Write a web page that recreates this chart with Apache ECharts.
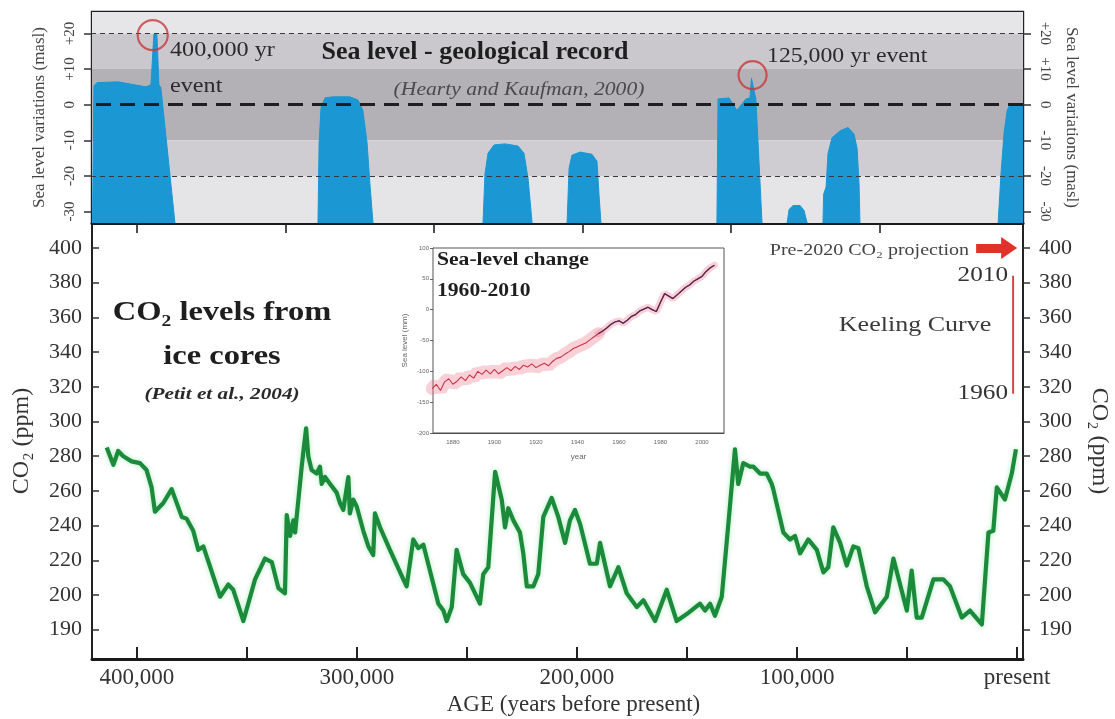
<!DOCTYPE html>
<html>
<head>
<meta charset="utf-8">
<title>Sea level and CO2 record</title>
<script src="https://cdn.jsdelivr.net/npm/echarts@6.0.0/dist/echarts.min.js"></script>
<style>
  html, body { margin: 0; padding: 0; background: #fff; }
  #chart { width: 1115px; height: 719px; }
</style>
</head>
<body>
<div id="chart"></div>
<script>
// CO2 from ice cores (Petit et al.), age in years before present
var co2Age = [413700, 410700, 408500, 406200, 402400, 398600, 395600, 393300, 391800, 388000,
  384200, 379600, 377400, 374400, 372100, 369800, 362200, 358500, 356200, 351600,
  346300, 341800, 338700, 335700, 332700, 331900, 330400, 328900, 328100, 325100,
  324400, 323100, 322100, 320600, 318300, 316800, 316000, 314500, 312200, 309200,
  307700, 306200, 303900, 303200, 301700, 300100, 297100, 294800, 292600, 291800,
  289500, 285000, 278900, 277400, 274400, 272100, 269800, 263000, 260700, 259200,
  256900, 254700, 251700, 248600, 244100, 242600, 240300, 237200, 234200, 232700,
  231200, 228900, 225900, 224400, 222800, 219800, 217600, 215300, 211500, 208500,
  205400, 203200, 200900, 198600, 194100, 191000, 189500, 185000, 181200, 177400,
  172800, 169800, 164500, 159200, 154700, 150100, 144100, 141800, 139500, 137300,
  134200, 131200, 128200, 126700, 124400, 122900, 121400, 119900, 116800, 113800,
  111500, 110800, 106200, 103200, 100900, 98600, 94900, 91000, 88000, 85800,
  83500, 80400, 77400, 74400, 72100, 68300, 64500, 59200, 56200, 50100,
  47900, 45600, 43300, 38000, 33500, 30500, 25100, 21400, 16000, 13000,
  10800, 9200, 5500, 2400, 500];
var co2Ppm = [285, 275, 283, 280, 277, 276, 272, 262, 248, 253,
  261, 245, 244, 237, 226, 228, 199, 206, 203, 185,
  209, 221, 219, 204, 201, 246, 234, 243, 236, 274,
  282, 296, 280, 272, 270, 274, 264, 268, 264, 259,
  253, 249, 268, 247, 255, 251, 237, 228, 223, 247,
  239, 226, 209, 205, 232, 227, 229, 195, 191, 185,
  193, 226, 212, 207, 195, 212, 216, 271, 255, 239,
  250, 243, 236, 224, 205, 205, 212, 245, 256, 245,
  230, 243, 249, 241, 218, 218, 230, 205, 216, 201,
  193, 197, 185, 203, 185, 189, 195, 191, 195, 188,
  199, 241, 284, 264, 276, 275, 274, 274, 270, 270,
  264, 261, 236, 232, 234, 224, 232, 226, 213, 216,
  239, 230, 217, 228, 227, 205, 190, 199, 221, 191,
  214, 187, 187, 209, 209, 205, 187, 191, 183, 236,
  237, 262, 255, 270, 284];

// sea level highstands (Hearty and Kaufman), one list per blue shape
var seaAges = [
  [420200, 419500, 418100, 408600, 395900, 393600, 392300, 390900, 390000, 389100, 382700],
  [317700, 317200, 316300, 314500, 310900, 303200, 299500, 297300, 295400, 294100, 292700],
  [242700, 241800, 240400, 237700, 232700, 226800, 224100, 222200, 220400],
  [204500, 203600, 202300, 198600, 193200, 190900, 190000, 189100],
  [136400, 135900, 130900, 127300, 123200, 121400, 120700, 119800, 118700, 117700, 115900],
  [104500, 103600, 101800, 98600, 96800, 95400],
  [88200, 87900, 86800, 85900, 84100, 80400, 76800, 74100, 72700, 71800, 71400],
  [8600, 7300, 5900, 4500, 3200, -2700]
];
var seaLevels = [
  [-33.2, 5.3, 6.2, 6.4, 5.0, 5.6, 19.7, 19.7, 5.6, 4.8, -33.2],
  [-33.2, -10.7, -0.7, 1.9, 2.2, 2.2, 1.3, -1.6, -10.7, -22.2, -33.2],
  [-33.2, -19.4, -13.6, -11.3, -11.0, -11.6, -13.6, -20.8, -33.2],
  [-33.2, -17.9, -14.2, -13.3, -13.9, -15.9, -25.1, -33.2],
  [-33.2, 1.6, 1.9, -1.6, 1.6, 1.9, 7.4, 7.4, 1.6, -10.7, -33.2],
  [-33.2, -29.4, -28.3, -28.3, -29.7, -33.2],
  [-33.2, -25.1, -23.1, -13.6, -9.3, -7.3, -6.4, -8.2, -12.2, -22.2, -33.2],
  [-33.2, -19.4, -7.9, -1.6, 0, 0]
];
var bandEdges = [26, 20, 10, -10, -20, -33.2];
var bandColors = ['#e6e5e8', '#cac8cc', '#b4b1b6', '#cfcdd1', '#e5e4e7'];
var refLevels = [20, 0, -20];
var eventAge = [392800, 120200];
var eventLevel = [19.5, 8.3];

// Keeling curve and projection arrow
var keelingAge = [1800, 1800];
var keelingPpm = [316, 384];
var projAge = [18600, 3600];
var projPpm = [400, 400];

// inset: sea-level change, mm
var insetYears = [1870, 1872, 1874, 1876, 1878, 1880, 1882, 1884, 1886, 1888,
  1890, 1892, 1894, 1896, 1898, 1900, 1902, 1904, 1906, 1908,
  1910, 1912, 1914, 1916, 1918, 1920, 1922, 1924, 1926, 1928,
  1930, 1932, 1934, 1936, 1938, 1940, 1942, 1944, 1946, 1948,
  1950, 1952, 1954, 1956, 1958, 1960, 1962, 1964, 1966, 1968,
  1970, 1972, 1974, 1976, 1978, 1980, 1982, 1984, 1986, 1988,
  1990, 1992, 1994, 1996, 1998, 2000, 2002, 2004, 2006];
var insetLevels = [-128, -121, -131, -117, -112, -121, -116, -109, -115, -106,
  -111, -100, -105, -98, -104, -97, -104, -99, -94, -99,
  -92, -97, -90, -93, -88, -94, -90, -87, -91, -84,
  -79, -77, -72, -68, -63, -60, -57, -54, -49, -44,
  -39, -35, -30, -24, -20, -18, -22, -17, -11, -8,
  -2, 1, 4, 0, -3, 12, 26, 22, 18, 24,
  30, 36, 40, 46, 50, 54, 62, 68, 72];

// ticks and labels
var ageTicks = [0, 50000, 100000, 150000, 200000, 250000, 300000, 350000, 400000];
var ageLabelValues = [0, 100000, 200000, 300000, 400000];
var ageLabels = ['present', '100,000', '200,000', '300,000', '400,000'];
var topTicks = [400000, 332500, 265000, 197500, 130000, 62500];
var seaTicks = [-30, -20, -10, 0, 10, 20];
var seaLabels = ['-30', '-20', '-10', '0', '+10', '+20'];
var co2Ticks = [180, 200, 220, 240, 260, 280, 300, 320, 340, 360, 380, 400];
var co2Labels = ['190', '200', '220', '240', '260', '280', '300', '320', '340', '360', '380', '400'];
var insetYearTicks = [1880, 1900, 1920, 1940, 1960, 1980, 2000];

var FONT = '"Liberation Serif", "Times New Roman", serif';
var ageMin = -2700, ageMax = 420400;

function zip(a, b) {
  return a.map(function (v, i) { return [v, b[i]]; });
}
function pick(list, labels) {
  return function (v) {
    var i = list.indexOf(v);
    return i >= 0 ? labels[i] : '';
  };
}
function txt(s, x, y, font, sx, align, color) {
  return {
    type: 'text', x: x, y: y, scaleX: sx, z: 100,
    style: {
      text: s, font: font + ' ' + FONT, fill: color || '#2a2a2a',
      textAlign: align, textVerticalAlign: 'middle', align: align, verticalAlign: 'middle'
    }
  };
}

var chart = echarts.init(document.getElementById('chart'));

var series = [];

// grey bands + dashed reference lines
series.push({
  type: 'line', xAxisIndex: 0, yAxisIndex: 0, data: [], z: 1, silent: true,
  markArea: {
    silent: true,
    data: bandColors.map(function (c, i) {
      return [{ yAxis: bandEdges[i], itemStyle: { color: c } }, { yAxis: bandEdges[i + 1] }];
    })
  },
  markLine: {
    silent: true, symbol: 'none', label: { show: false },
    data: refLevels.map(function (v) {
      return {
        yAxis: v,
        lineStyle: v === 0
          ? { color: '#1e1e1e', width: 2.8, type: [15, 9] }
          : { color: '#3a3a3a', width: 1.2, type: [5, 4] }
      };
    })
  }
});

// blue highstands
seaAges.forEach(function (ages, k) {
  series.push({
    type: 'line', xAxisIndex: 0, yAxisIndex: 0, z: 3, silent: true,
    symbol: 'none',
    lineStyle: { color: '#1b97d4', width: 1 },
    areaStyle: { color: '#1b97d4', opacity: 1, origin: 'start' },
    data: zip(ages, seaLevels[k])
  });
});

// red circles on the two events
series.push({
  type: 'scatter', xAxisIndex: 0, yAxisIndex: 0, z: 5, silent: true,
  symbol: 'circle',
  symbolSize: function (v, p) { return p.dataIndex === 0 ? 30 : 28; },
  itemStyle: { color: 'rgba(0,0,0,0)', borderColor: '#c73a3c', borderWidth: 2.2 },
  data: zip(eventAge, eventLevel)
});

// CO2 curve
series.push({
  type: 'line', xAxisIndex: 1, yAxisIndex: 2, z: 3, symbol: 'none',
  lineStyle: {
    color: '#1c8a3b', width: 4.2, join: 'round',
    shadowColor: 'rgba(70,210,110,0.45)', shadowBlur: 5
  },
  data: zip(co2Age, co2Ppm)
});

// Keeling curve + projection arrow
series.push({
  type: 'line', xAxisIndex: 1, yAxisIndex: 2, z: 4, symbol: 'none',
  lineStyle: { color: '#d8434a', width: 2 },
  data: zip(keelingAge, keelingPpm),
  markLine: {
    silent: true,
    symbol: ['none', 'triangle'], symbolSize: [22, 16],
    label: { show: false },
    lineStyle: { color: '#e0312b', width: 9, type: 'solid' },
    data: [[{ coord: [projAge[0], projPpm[0]] }, { coord: [projAge[1], projPpm[1]] }]]
  }
});

// inset series
var insetPairs = zip(insetYears, insetLevels);
series.push({
  type: 'line', xAxisIndex: 2, yAxisIndex: 4, z: 3, symbol: 'none', silent: true,
  lineStyle: { color: 'rgba(238,120,140,0.35)', width: 13, cap: 'round' },
  data: insetPairs.filter(function (p) { return p[0] <= 1950; })
});
series.push({
  type: 'line', xAxisIndex: 2, yAxisIndex: 4, z: 3, symbol: 'none', silent: true,
  lineStyle: { color: 'rgba(238,120,140,0.35)', width: 7, cap: 'round' },
  data: insetPairs.filter(function (p) { return p[0] >= 1950; })
});
series.push({
  type: 'line', xAxisIndex: 2, yAxisIndex: 4, z: 4, symbol: 'none', silent: true,
  lineStyle: { color: '#c93546', width: 1.1 },
  data: insetPairs
});
series.push({
  type: 'line', xAxisIndex: 2, yAxisIndex: 4, z: 5, symbol: 'none', silent: true,
  lineStyle: { color: '#4a2d5c', width: 1.3 },
  data: insetPairs.filter(function (p) { return p[0] >= 1950; })
});

var option = {
  backgroundColor: '#fff',
  animation: false,
  grid: [
    { left: 92, top: 12, width: 931, height: 211, show: true, borderColor: '#202020', borderWidth: 2.4,
      containLabel: false, outerBoundsMode: 'none' },
    { left: 92, top: 223, width: 931, height: 436, containLabel: false, outerBoundsMode: 'none' },
    { left: 433, top: 248, width: 291, height: 185, show: true, backgroundColor: '#fff',
      borderColor: '#555', borderWidth: 1, z: 2, containLabel: false, outerBoundsMode: 'none' }
  ],
  xAxis: [
    {
      gridIndex: 0, type: 'value', min: ageMin, max: ageMax, inverse: true,
      axisLine: { show: true, onZero: false, lineStyle: { color: '#1a1a1a', width: 3 } },
      axisTick: { show: true, inside: false, length: 10, customValues: topTicks, lineStyle: { color: '#222', width: 1.6 } },
      axisLabel: { show: false }, splitLine: { show: false }
    },
    {
      gridIndex: 1, type: 'value', min: ageMin, max: ageMax, inverse: true,
      axisLine: { show: true, onZero: false, lineStyle: { color: '#1a1a1a', width: 3 } },
      axisTick: { show: true, inside: true, length: 12, customValues: ageTicks, lineStyle: { color: '#222', width: 2 } },
      axisLabel: {
        customValues: ageLabelValues, formatter: pick(ageLabelValues, ageLabels),
        fontFamily: FONT, fontSize: 23, color: '#333', margin: 7
      },
      splitLine: { show: false },
      name: 'AGE (years before present)', nameLocation: 'middle', nameGap: 33,
      nameTextStyle: { fontFamily: FONT, fontSize: 23, color: '#333', padding: [0, 0, 0, 32] }
    },
    {
      gridIndex: 2, type: 'value', min: 1870.4, max: 2010.6,
      axisLine: { show: true, onZero: false, lineStyle: { color: '#444', width: 1 } },
      axisTick: { show: true, inside: true, length: 3, customValues: insetYearTicks, lineStyle: { color: '#666' } },
      axisLabel: {
        customValues: insetYearTicks, formatter: function (v) { return String(v); },
        fontFamily: 'Arial, sans-serif', fontSize: 6, color: '#666', margin: 6
      },
      splitLine: { show: false },
      name: 'year', nameLocation: 'middle', nameGap: 20,
      nameTextStyle: { fontFamily: 'Arial, sans-serif', fontSize: 8, color: '#666' }
    }
  ],
  yAxis: [
    {
      gridIndex: 0, type: 'value', min: -33.2, max: 26,
      axisLine: { show: true, onZero: false, lineStyle: { color: '#222', width: 2 } },
      axisTick: { show: true, inside: false, length: 8, customValues: seaTicks, lineStyle: { color: '#333', width: 1.5 } },
      axisLabel: {
        customValues: seaTicks, formatter: pick(seaTicks, seaLabels), rotate: 90,
        fontFamily: FONT, fontSize: 15, color: '#444', margin: 14
      },
      splitLine: { show: false },
      name: 'Sea level variations (masl)', nameLocation: 'middle', nameRotate: 90, nameGap: 44,
      nameTextStyle: { fontFamily: FONT, fontSize: 17, color: '#444' }
    },
    {
      gridIndex: 0, type: 'value', position: 'right', min: -33.2, max: 26,
      axisLine: { show: true, onZero: false, lineStyle: { color: '#222', width: 2 } },
      axisTick: { show: true, inside: false, length: 8, customValues: seaTicks, lineStyle: { color: '#333', width: 1.5 } },
      axisLabel: {
        customValues: seaTicks, formatter: pick(seaTicks, seaLabels), rotate: -90,
        fontFamily: FONT, fontSize: 15, color: '#444', margin: 14
      },
      splitLine: { show: false },
      name: 'Sea level variations (masl)', nameLocation: 'middle', nameRotate: -90, nameGap: 40,
      nameTextStyle: { fontFamily: FONT, fontSize: 17, color: '#444' }
    },
    {
      gridIndex: 1, type: 'value', min: 163.1, max: 414.4,
      axisLine: { show: true, onZero: false, lineStyle: { color: '#222', width: 2 } },
      axisTick: { show: true, inside: true, length: 7, customValues: co2Ticks, lineStyle: { color: '#333', width: 1.5 } },
      axisLabel: {
        customValues: co2Ticks, formatter: pick(co2Ticks, co2Labels),
        fontFamily: FONT, fontSize: 22, color: '#333', margin: 10
      },
      splitLine: { show: false },
      name: 'CO₂ (ppm)', nameLocation: 'middle', nameRotate: 90, nameGap: 58,
      nameTextStyle: { fontFamily: FONT, fontSize: 24, color: '#333' }
    },
    {
      gridIndex: 1, type: 'value', position: 'right', min: 163.1, max: 414.4,
      axisLine: { show: true, onZero: false, lineStyle: { color: '#222', width: 2 } },
      axisTick: { show: true, inside: false, length: 7, customValues: co2Ticks, lineStyle: { color: '#333', width: 1.5 } },
      axisLabel: {
        customValues: co2Ticks, formatter: pick(co2Ticks, co2Labels),
        fontFamily: FONT, fontSize: 22, color: '#333', margin: 16
      },
      splitLine: { show: false },
      name: 'CO₂ (ppm)', nameLocation: 'middle', nameRotate: -90, nameGap: 64,
      nameTextStyle: { fontFamily: FONT, fontSize: 24, color: '#333' }
    },
    {
      gridIndex: 2, type: 'value', min: -200, max: 100, interval: 50,
      axisLine: { show: true, onZero: false, lineStyle: { color: '#444', width: 1 } },
      axisTick: { show: true, inside: false, length: 3, lineStyle: { color: '#666' } },
      axisLabel: { fontFamily: 'Arial, sans-serif', fontSize: 6, color: '#666', margin: 4 },
      splitLine: { show: false },
      name: 'Sea level (mm)', nameLocation: 'middle', nameRotate: 90, nameGap: 24,
      nameTextStyle: { fontFamily: 'Arial, sans-serif', fontSize: 8, color: '#666' }
    }
  ],
  graphic: [
    txt('Sea level - geological record', 475, 53, 'bold 25px', 1.04, 'center', '#1e1e1e'),
    txt('(Hearty and Kaufman, 2000)', 519, 90, 'italic 18px', 1.2, 'center', '#4a4a4a'),
    txt('400,000 yr', 170, 50, '22px', 1.1, 'left'),
    txt('event', 170, 86, '22px', 1.1, 'left'),
    txt('125,000 yr event', 767, 56, '22px', 1.08, 'left'),
    txt('CO₂ levels from', 222, 313, 'bold 28px', 1.16, 'center', '#1e1e1e'),
    txt('ice cores', 222, 357, 'bold 28px', 1.16, 'center', '#1e1e1e'),
    txt('(Petit et al., 2004)', 222, 395, 'italic bold 17px', 1.25, 'center', '#2a2a2a'),
    txt('Sea-level change', 437, 260, 'bold 18px', 1.2, 'left', '#1e1e1e'),
    txt('1960-2010', 437, 291, 'bold 18px', 1.2, 'left', '#1e1e1e'),
    txt('Pre-2020 CO₂ projection', 969, 251, '16px', 1.25, 'right', '#444'),
    txt('2010', 1008, 275, '21px', 1.2, 'right', '#333'),
    txt('1960', 1008, 393, '21px', 1.2, 'right', '#333'),
    txt('Keeling Curve', 915, 326, '20px', 1.3, 'center', '#3a3a3a')
  ],
  series: series
};

chart.setOption(option);
</script>
</body>
</html>
